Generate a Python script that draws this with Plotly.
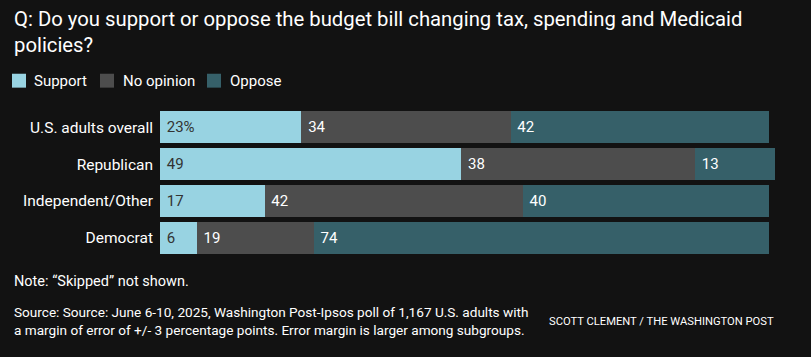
import plotly.graph_objects as go

categories = ["U.S. adults overall", "Republican", "Independent/Other", "Democrat"]
support = [23, 49, 17, 6]
no_opinion = [34, 38, 42, 19]
oppose = [42, 13, 40, 74]
support_labels = ["23%", "49", "17", "6"]

BG = "#121212"
FONT = "Roboto"
series = [
    ("Support", support, "#98d3e2", "#333333", support_labels),
    ("No opinion", no_opinion, "#4d4d4d", "#ffffff", [str(v) for v in no_opinion]),
    ("Oppose", oppose, "#366069", "#ffffff", [str(v) for v in oppose]),
]

# plot area geometry (pixels)
L, R, T, B = 160, 775, 108.5, 256.5
W, H = R - L, B - T
px = lambda x: (x - L) / W
py = lambda y: (B - y) / H

fig = go.Figure()
for name, vals, color, tcolor, labels in series:
    fig.add_trace(go.Bar(
        y=categories, x=vals, name=name, orientation="h",
        marker=dict(color=color, line=dict(width=0)),
        text=["\u00a0" + t for t in labels],
        textposition="inside", insidetextanchor="start",
        textfont=dict(family=FONT, size=15, color=tcolor),
        hoverinfo="skip", showlegend=False,
    ))

fig.update_layout(
    barmode="stack", bargap=0.135,
    width=811, height=357,
    paper_bgcolor=BG, plot_bgcolor=BG,
    margin=dict(l=L, r=811 - R, t=T, b=357 - B, autoexpand=False),
    font=dict(family=FONT, color="#ffffff"),
    xaxis=dict(range=[0, 100], visible=False, fixedrange=True),
    yaxis=dict(autorange="reversed", showgrid=False, zeroline=False, showline=False,
               automargin=False, ticks="", ticklabelstandoff=6, fixedrange=True,
               tickfont=dict(family=FONT, size=15.5, color="#ffffff")),
    uniformtext=dict(mode="show", minsize=15),
    showlegend=False,
)

# custom legend
legend_x = [(12, 32), (100, 121), (207, 228)]
for (name, _, color, _, _), (sx, tx) in zip(series, legend_x):
    fig.add_shape(type="rect", xref="paper", yref="paper",
                  x0=px(sx), x1=px(sx + 14), y0=py(87), y1=py(73),
                  fillcolor=color, line=dict(width=0))
    fig.add_annotation(text=name, xref="paper", yref="paper", x=px(tx), y=py(80),
                       xanchor="left", yanchor="middle", showarrow=False,
                       font=dict(family=FONT, size=15, color="#ffffff"))

fig.add_annotation(text="Q: Do you support or oppose the budget bill changing tax, spending and Medicaid<br>policies?",
                   xref="paper", yref="paper", x=px(12), y=py(30.5),
                   xanchor="left", yanchor="middle", align="left", showarrow=False,
                   font=dict(family=FONT, size=20.3, color="#ffffff"))
fig.add_annotation(text="Note: \u201cSkipped\u201d not shown.",
                   xref="paper", yref="paper", x=px(12), y=py(282),
                   xanchor="left", yanchor="middle", align="left", showarrow=False,
                   font=dict(family=FONT, size=14.5, color="#ffffff"))
fig.add_annotation(text="Source: Source: June 6-10, 2025, Washington Post-Ipsos poll of 1,167 U.S. adults with<br>a margin of error of +/- 3 percentage points. Error margin is larger among subgroups.",
                   xref="paper", yref="paper", x=px(12), y=py(322),
                   xanchor="left", yanchor="middle", align="left", showarrow=False,
                   font=dict(family=FONT, size=13.6, color="#ffffff"))
fig.add_annotation(text="SCOTT CLEMENT / THE WASHINGTON POST",
                   xref="paper", yref="paper", x=px(547), y=py(322),
                   xanchor="left", yanchor="middle", align="left", showarrow=False,
                   font=dict(family=FONT, size=11.2, color="#ffffff"))

fig.write_html("out.html", config={"displayModeBar": False, "staticPlot": True},
               post_script="document.body.style.margin='0';document.body.style.background='#121212';document.body.style.overflow='hidden';")
